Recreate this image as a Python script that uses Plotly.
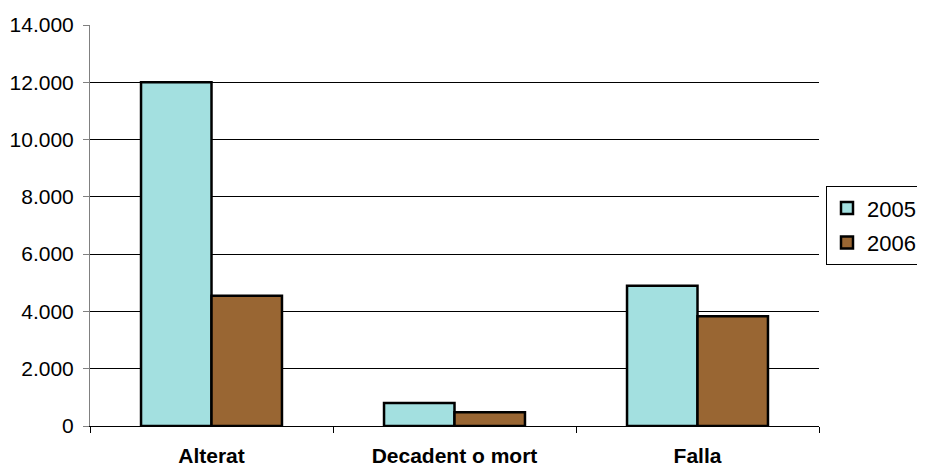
import plotly.graph_objects as go

categories = ["Alterat", "Decadent o mort", "Falla"]
series_names = ["2005", "2006"]
values_2005 = [12000, 800, 4900]
values_2006 = [4550, 480, 3830]
colors = ["#A3E0E0", "#996633"]
y_ticks = [0, 2000, 4000, 6000, 8000, 10000, 12000, 14000]
y_tick_labels = ["0", "2.000", "4.000", "6.000", "8.000", "10.000", "12.000", "14.000"]

fig = go.Figure()
for name, vals, col in zip(series_names, [values_2005, values_2006], colors):
    fig.add_trace(go.Bar(
        x=categories, y=vals, name=name, legendgroup=name,
        marker=dict(color=col, line=dict(color="#000000", width=2.5)),
    ))

fig.update_layout(
    width=917, height=458,
    margin=dict(l=82, r=106, t=17, b=40, autoexpand=False),
    paper_bgcolor="white", plot_bgcolor="white",
    barmode="group", bargap=0.42, bargroupgap=0,
    font=dict(family="Liberation Sans, Arial, sans-serif", color="#000000"),
    showlegend=True,
    legend=dict(
        x=1.0096, y=0.598, xanchor="left", yanchor="top",
        bgcolor="white", bordercolor="#000000", borderwidth=1,
        font=dict(size=22), tracegroupgap=3, traceorder="grouped",
        itemwidth=30,
    ),
    xaxis=dict(
        showline=True, linecolor="#000000", linewidth=1,
        ticks="outside", tickson="boundaries", ticklen=6, tickcolor="#000000",
        tickfont=dict(size=21, family="Liberation Sans, Arial, sans-serif"),
        ticklabelstandoff=11,
    ),
    yaxis=dict(
        range=[0, 14000], tickvals=y_ticks, ticktext=y_tick_labels,
        showgrid=True, gridcolor="#000000", gridwidth=1,
        showline=True, linecolor="#808080", linewidth=1,
        ticks="outside", ticklen=6, tickcolor="#808080",
        tickfont=dict(size=21), ticklabelstandoff=5,
        zeroline=False,
    ),
)
fig.update_xaxes(tickvals=categories, ticktext=["<b>%s</b>" % c for c in categories])

fig.write_html("out.html")
